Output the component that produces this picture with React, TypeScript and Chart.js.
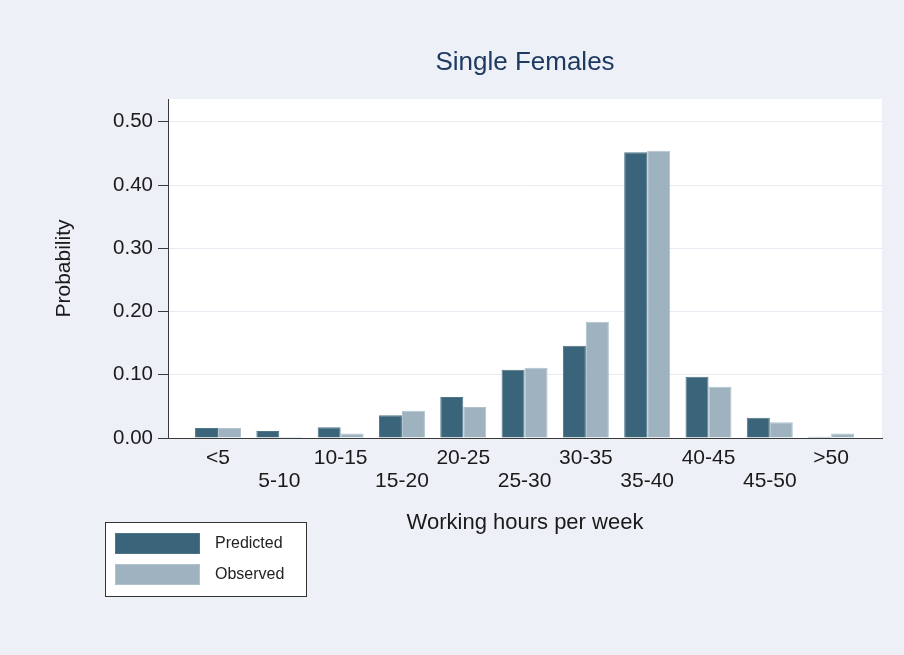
import React, { useEffect, useRef } from "react";
import { Chart, registerables } from "chart.js";

Chart.register(...registerables);

const categories = ["<5", "5-10", "10-15", "15-20", "20-25", "25-30", "30-35", "35-40", "40-45", "45-50", ">50"];
const predicted = [0.016, 0.011, 0.017, 0.036, 0.065, 0.108, 0.146, 0.452, 0.097, 0.032, 0.002];
const observed = [0.016, 0.002, 0.007, 0.043, 0.049, 0.111, 0.184, 0.454, 0.081, 0.025, 0.007];
const yTicks = [0, 0.1, 0.2, 0.3, 0.4, 0.5];

const FONT = '"Liberation Sans", Arial, Helvetica, sans-serif';
const BG = "#edf1f7";

const bgPlugin = {
  id: "bgPlugin",
  beforeDraw(chart: any) {
    const { ctx, chartArea, width, height } = chart;
    ctx.save();
    ctx.fillStyle = BG;
    ctx.fillRect(0, 0, width, height);
    ctx.fillStyle = "#ffffff";
    ctx.fillRect(chartArea.left, chartArea.top, chartArea.right - chartArea.left, chartArea.bottom - chartArea.top);
    ctx.restore();
  },
};

const titlePlugin = {
  id: "titlePlugin",
  afterDraw(chart: any) {
    const { ctx, chartArea } = chart;
    ctx.save();
    ctx.fillStyle = "#1f3a60";
    ctx.font = `26px ${FONT}`;
    ctx.textAlign = "center";
    ctx.textBaseline = "middle";
    ctx.fillText("Single Females", (chartArea.left + chartArea.right) / 2, chartArea.top - 36);
    ctx.restore();
  },
};

const legendPlugin = {
  id: "boxLegend",
  afterDraw(chart: any) {
    const { ctx, chartArea } = chart;
    const x0 = Math.round(chartArea.left - 63);
    const y0 = Math.round(chartArea.bottom + 84);
    ctx.save();
    ctx.fillStyle = "#ffffff";
    ctx.fillRect(x0, y0, 202, 75);
    ctx.strokeStyle = "#333333";
    ctx.lineWidth = 1;
    ctx.strokeRect(x0 + 0.5, y0 + 0.5, 201, 74);
    chart.data.datasets.forEach((ds: any, i: number) => {
      const sy = y0 + 11 + i * 31;
      ctx.fillStyle = ds.backgroundColor;
      ctx.fillRect(x0 + 10, sy, 85, 21);
      ctx.strokeStyle = ds.borderColor;
      ctx.strokeRect(x0 + 10.5, sy + 0.5, 84, 20);
      ctx.fillStyle = "#222222";
      ctx.font = `16px ${FONT}`;
      ctx.textAlign = "left";
      ctx.textBaseline = "middle";
      ctx.fillText(ds.label, x0 + 110, sy + 11);
    });
    ctx.restore();
  },
};

export default function App() {
  const ref = useRef<HTMLCanvasElement>(null);

  useEffect(() => {
    if (!ref.current) return;
    const chart = new Chart(ref.current, {
      type: "bar",
      data: {
        datasets: [
          {
            label: "Predicted",
            data: predicted.map((v, i) => ({ x: i, y: v })),
            backgroundColor: "#3a6479",
            borderColor: "#4f7588",
            borderWidth: 1,
          },
          {
            label: "Observed",
            data: observed.map((v, i) => ({ x: i, y: v })),
            backgroundColor: "#9eb3bf",
            borderColor: "#b0c2cc",
            borderWidth: 1,
          },
        ],
      },
      options: {
        animation: false,
        responsive: false,
        devicePixelRatio: 1,
        categoryPercentage: 0.75,
        barPercentage: 1,
        layout: { padding: { top: 99, right: 22, bottom: 117, left: 0 } },
        plugins: {
          legend: { display: false },
          title: { display: false },
          tooltip: { enabled: false },
        },
        scales: {
          x: {
            type: "linear",
            offset: false,
            min: -0.816,
            max: 10.83,
            afterBuildTicks: (axis: any) => {
              axis.ticks = categories.map((_, i) => ({ value: i }));
            },
            afterFit: (scale: any) => {
              scale.height = 100;
            },
            grid: { display: false, drawTicks: false, offset: false },
            border: { display: true, color: "#3a3a3a", width: 1 },
            ticks: {
              autoSkip: false,
              maxRotation: 0,
              padding: 9,
              color: "#1a1a1a",
              font: { family: FONT, size: 21, lineHeight: 1.1 },
              callback: (value: any, index: number) => {
                const lab = categories[index] ?? "";
                return index % 2 === 1 ? ["", lab] : lab;
              },
            },
            title: {
              display: true,
              text: "Working hours per week",
              color: "#1a1a1a",
              font: { family: FONT, size: 22, lineHeight: 1.2 },
              padding: { top: 0, bottom: 2 },
            },
          },
          y: {
            min: 0,
            max: 0.536,
            afterBuildTicks: (axis: any) => {
              axis.ticks = yTicks.map((v) => ({ value: v }));
            },
            afterFit: (scale: any) => {
              scale.width = 168;
            },
            grid: {
              color: "#e6ebf2",
              lineWidth: 1,
              tickColor: "#3a3a3a",
              tickLength: 10,
              drawTicks: true,
            },
            border: { display: true, color: "#3a3a3a", width: 1 },
            ticks: {
              padding: 5,
              color: "#1a1a1a",
              font: { family: FONT, size: 20.5 },
              callback: (value: any) => Number(value).toFixed(2),
            },
            title: {
              display: true,
              text: "Probability",
              color: "#1a1a1a",
              font: { family: FONT, size: 21, lineHeight: 1.2 },
              padding: { top: 52, bottom: 0 },
            },
          },
        },
      },
      plugins: [bgPlugin, titlePlugin, legendPlugin],
    } as any);
    return () => chart.destroy();
  }, []);

  return (
    <div style={{ position: "fixed", left: 0, top: 0, width: 904, height: 655, background: BG }}>
      <canvas ref={ref} width={904} height={655} style={{ display: "block", width: 904, height: 655 }} />
    </div>
  );
}
